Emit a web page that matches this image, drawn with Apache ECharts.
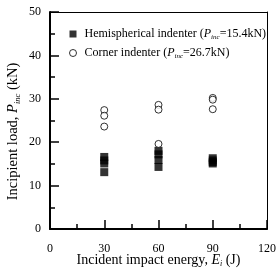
<!DOCTYPE html>
<html>
<head>
<meta charset="utf-8">
<script src="https://cdn.jsdelivr.net/npm/echarts@6/dist/echarts.min.js"></script>
<style>
    html, body { margin: 0; padding: 0; background: #fff; }
    #chart { width: 277px; height: 273px; }
</style>
</head>
<body>
<div id="chart"></div>
<script>
// incident energy (J) and incipient load (kN)
const hemiEnergy = [30, 30, 30, 30, 60, 60, 60, 60, 90, 90, 90, 90]
const hemiLoad = [16.6, 15.8, 15.1, 13.1, 18.0, 17.2, 15.9, 14.3, 16.3, 15.8, 15.4, 15.1]
const cornerEnergy = [30, 30, 30, 60, 60, 60, 90, 90, 90]
const cornerLoad = [27.4, 26.1, 23.6, 28.6, 27.5, 19.6, 30.2, 29.8, 27.6]
const xTicks = [0, 30, 60, 90, 120]
const yTicks = [0, 10, 20, 30, 40, 50]

const font = 'Liberation Serif'
const xRich = {
    n: { fontFamily: font, fontSize: 14, color: '#000' },
    i: { fontFamily: font, fontStyle: 'italic', fontSize: 14, color: '#000' },
    s: { fontFamily: font, fontStyle: 'italic', fontSize: 8, color: '#000', padding: [7, 0, 0, 0] },
}
const yRich = {
    n: { fontFamily: font, fontSize: 14.5, color: '#000' },
    i: { fontFamily: font, fontStyle: 'italic', fontSize: 14.5, color: '#000' },
    s: { fontFamily: font, fontStyle: 'italic', fontSize: 8.5, color: '#000', padding: [8, 0, 0, 0] },
}
const legRich = {
    n: { fontFamily: font, fontSize: 12, color: '#000' },
    i: { fontFamily: font, fontStyle: 'italic', fontSize: 12, color: '#000' },
    s: { fontFamily: font, fontStyle: 'italic', fontSize: 7, color: '#000', padding: [7, 0, 0, 0] },
}
const frameAxis = {
    show: true,
    axisLine: { onZero: false, lineStyle: { color: '#000', width: 1 } },
    axisTick: { show: false },
    axisLabel: { show: false },
    splitLine: { show: false },
}

const chart = echarts.init(document.getElementById('chart'))
chart.setOption({
    animation: false,
    grid: { left: 50, right: 10, top: 12, bottom: 44, containLabel: false, outerBoundsMode: 'none' },
    legend: {
        orient: 'vertical',
        left: 64,
        top: 23,
        itemGap: 6,
        itemWidth: 7,
        itemHeight: 7,
        formatter: (name) => name === 'hemi'
            ? '{n|Hemispherical indenter (}{i|P}{s|inc}{n|=15.4kN)}'
            : '{n|Corner indenter (}{i|P}{s|inc}{n|=26.7kN)}',
        textStyle: { rich: legRich, padding: [0, 0, 0, 3] },
        data: [
            { name: 'hemi', icon: 'rect' },
            { name: 'corner', icon: 'circle', itemStyle: { color: '#fff', borderColor: '#000', borderWidth: 1 } },
        ],
    },
    xAxis: [
        {
            type: 'value',
            min: 0,
            max: 120,
            interval: 30,
            name: '{n|Incident impact energy, }{i|E}{s|i}{n| (J)}',
            nameLocation: 'middle',
            nameGap: 24,
            nameMoveOverlap: false,
            nameTextStyle: { rich: xRich },
            axisLine: { onZero: false, lineStyle: { color: '#000', width: 2 } },
            axisTick: { inside: true, length: 9, lineStyle: { color: '#000', width: 1.5 } },
            minorTick: { show: true, splitNumber: 2, length: 5, lineStyle: { color: '#000', width: 1.5 } },
            axisLabel: {
                margin: 14, fontFamily: font, fontSize: 12, color: '#000',
                formatter: (v) => xTicks.includes(v) ? String(v) : '',
            },
            splitLine: { show: false },
        },
        { ...frameAxis, type: 'value', position: 'top', min: 0, max: 120 },
    ],
    yAxis: [
        {
            type: 'value',
            min: 0,
            max: 50,
            interval: 10,
            name: '{n|Incipient load, }{i|P}{s|inc}{n| (kN)}',
            nameLocation: 'middle',
            nameRotate: 90,
            nameGap: 28,
            nameMoveOverlap: false,
            nameTextStyle: { rich: yRich, padding: [0, 22, 0, 0] },
            axisLine: { onZero: false, lineStyle: { color: '#000', width: 2 } },
            axisTick: { inside: true, length: 9, lineStyle: { color: '#000', width: 1.5 } },
            minorTick: { show: true, splitNumber: 2, length: 5, lineStyle: { color: '#000', width: 1.5 } },
            axisLabel: {
                margin: 9, fontFamily: font, fontSize: 12, color: '#000',
                formatter: (v) => yTicks.includes(v) ? String(v) : '',
            },
            splitLine: { show: false },
        },
        { ...frameAxis, type: 'value', position: 'right', min: 0, max: 50 },
    ],
    series: [
        {
            name: 'hemi',
            type: 'scatter',
            symbol: 'rect',
            symbolSize: 8,
            itemStyle: { color: '#000' },
            data: hemiEnergy.map((e, i) => [e, hemiLoad[i]]),
        },
        {
            name: 'corner',
            type: 'scatter',
            symbol: 'circle',
            symbolSize: 7,
            itemStyle: { color: '#fff', borderColor: '#000', borderWidth: 1 },
            data: cornerEnergy.map((e, i) => [e, cornerLoad[i]]),
        },
    ],
})
</script>
</body>
</html>
